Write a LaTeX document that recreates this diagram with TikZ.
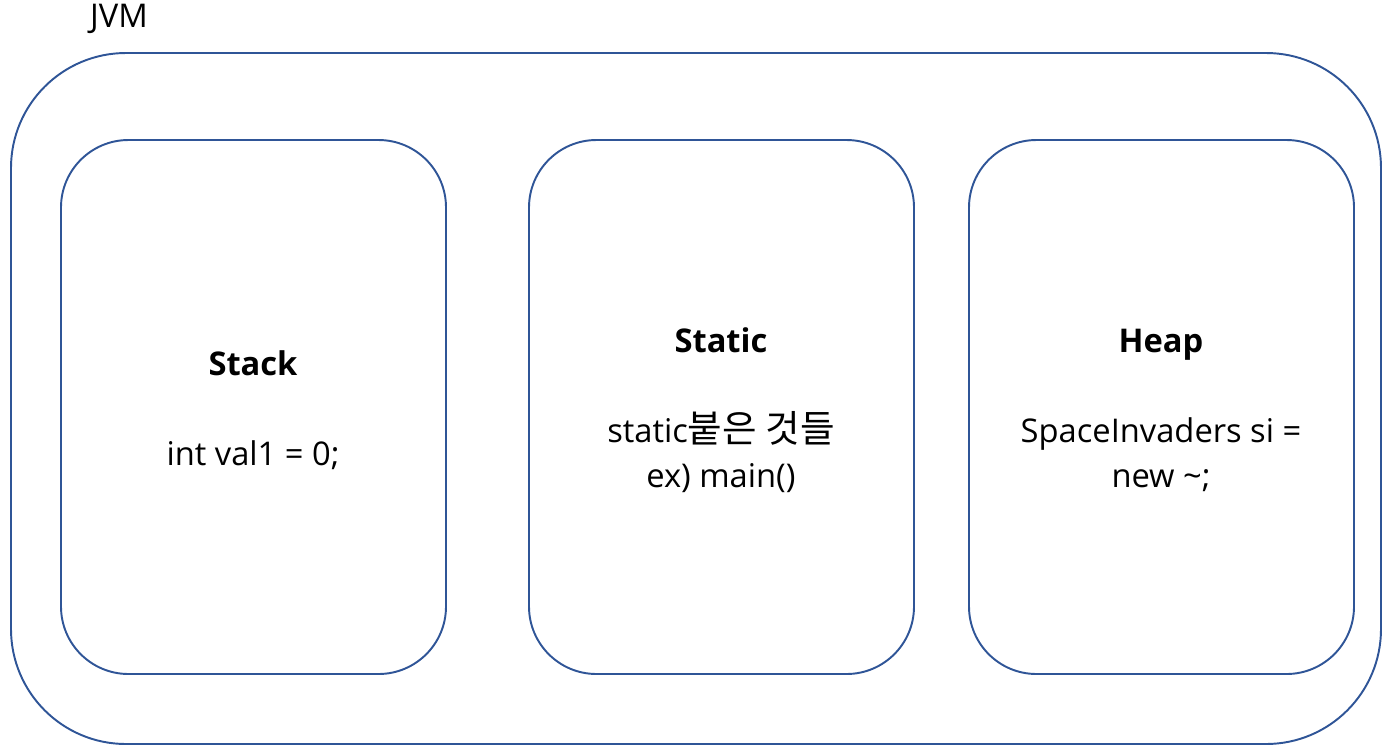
\documentclass[tikz,border=0pt]{standalone}
\usepackage{fontspec}
\setmainfont{Open Sans}
\newfontfamily\kr[Scale=1.15]{Noto Sans CJK KR}
\definecolor{boxblue}{HTML}{2F5597}
\begin{document}
\begin{tikzpicture}[x=0.02cm,y=-0.02cm,
  outerbox/.style={draw=boxblue,line width=1.1pt,rounded corners=2.3cm},
  areabox/.style={draw=boxblue,line width=1.1pt,rounded corners=1.35cm},
  lbl/.style={font=\fontsize{18.6}{25.5}\selectfont,align=center,inner sep=0pt}]
\useasboundingbox (0,0) rectangle (1389,755);
\draw[outerbox] (11,53) rectangle (1381,744);
\node[lbl,anchor=base] (jvm) at (119,27) {JVM};
\draw[areabox] (61,140) rectangle (446,674);
\draw[areabox] (529,140) rectangle (914,674);
\draw[areabox] (969,140) rectangle (1354,674);
\node[lbl,anchor=base] (stackt) at (253,375) {\textbf{Stack}};
\node[lbl,anchor=base] (stackc) at (253,465) {int val1 = 0;};
\node[lbl,anchor=base] (statict) at (721,352) {\textbf{Static}};
\node[lbl,anchor=base] (staticc1) at (721,442) {static{\kr 붙은 것들}};
\node[lbl,anchor=base] (staticc2) at (721,487) {ex) main()};
\node[lbl,anchor=base] (heapt) at (1161,352) {\textbf{Heap}};
\node[lbl,anchor=base] (heapc1) at (1161,442) {SpaceInvaders si =};
\node[lbl,anchor=base] (heapc2) at (1161,487) {new \textasciitilde;};
\end{tikzpicture}
\end{document}
